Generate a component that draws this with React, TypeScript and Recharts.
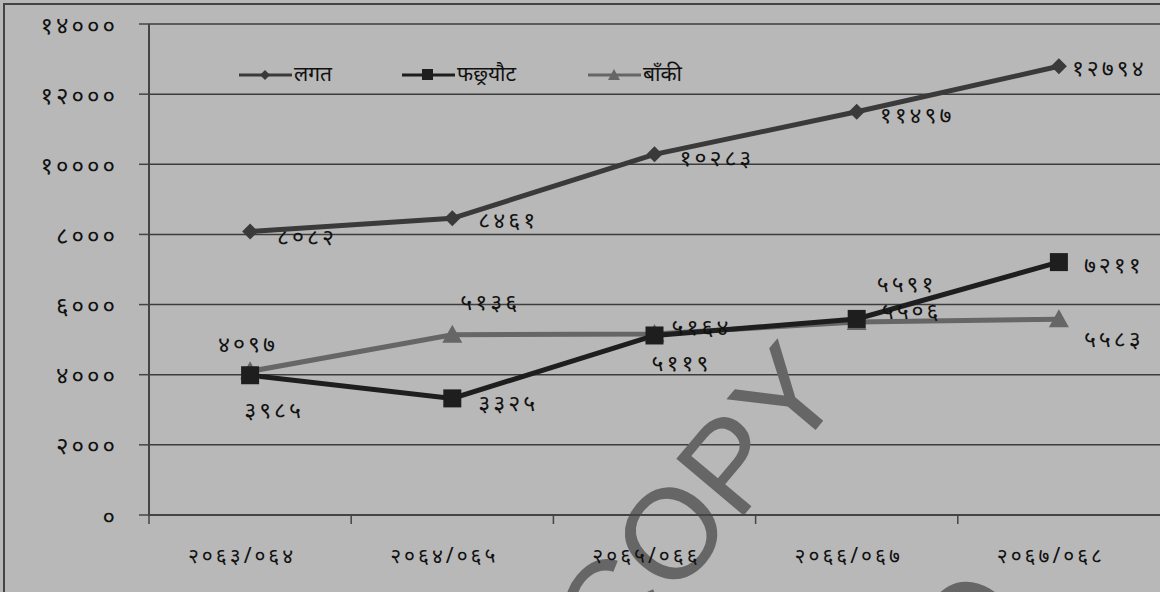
import React from 'react';
import { LineChart, Line, XAxis, YAxis, CartesianGrid, Customized } from 'recharts';

// fiscal years (Nepali)
const years = ['२०६३/०६४', '२०६४/०६५', '२०६५/०६६', '२०६६/०६७', '२०६७/०६८'];
const lagat = [8082, 8461, 10283, 11497, 12794];
const fachhyaut = [3985, 3325, 5119, 5591, 7211];
const baki = [4097, 5136, 5164, 5506, 5583];
const yTicks = [0, 2000, 4000, 6000, 8000, 10000, 12000, 14000];
const seriesNames = ['लगत', 'फछ्र्यौट', 'बाँकी'];

const data = years.map((y, i) => ({ year: y, lagat: lagat[i], fachhyaut: fachhyaut[i], baki: baki[i] }));

const W = 1160;
const H = 592;
const LEFT = 149;
const TOP = 24;
const XH = 30;
const BOTTOM = 77 - XH;
const BAND = (W - LEFT) / years.length;

const DEV = ['०', '१', '२', '३', '४', '५', '६', '७', '८', '९'];
const toDev = (n: number | string) => String(n).replace(/[0-9]/g, (d) => DEV[Number(d)]);

const FONT = '"Noto Sans", sans-serif';

// label offsets from the point (dx, dy, anchor)
const lagatOff: [number, number, string][] = [[27, 4, 'start'], [26, 1, 'start'], [25, 3, 'start'], [23, 2, 'start'], [13, 1, 'start']];
const fachOff: [number, number, string][] = [[24, 34, 'middle'], [26, 4, 'start'], [-3, 27, 'start'], [20, -36, 'start'], [25, 2, 'start']];
const bakiOff: [number, number, string][] = [[-32, -28, 'start'], [8, -34, 'start'], [17, -8, 'start'], [25, -12, 'start'], [25, 19, 'start']];

const makeLabel = (off: [number, number, string][]) => (props: any) => {
  const { x, y, index, value } = props;
  const [dx, dy, anchor] = off[index];
  return (
    <text x={x + dx} y={y + dy} textAnchor={anchor as any} dominantBaseline="central"
      fontSize={23} letterSpacing={3} fontFamily={FONT} fill="#111">
      {toDev(value)}
    </text>
  );
};

const Diamond = (props: any) => {
  const { cx, cy } = props;
  const r = 8;
  return <path d={`M${cx},${cy - r}L${cx + r},${cy}L${cx},${cy + r}L${cx - r},${cy}Z`} fill="#3a3a3a" />;
};
const Square = (props: any) => {
  const { cx, cy } = props;
  return <rect x={cx - 9} y={cy - 9} width={18} height={18} fill="#1e1e1e" />;
};
const Triangle = (props: any) => {
  const { cx, cy } = props;
  return <path d={`M${cx},${cy - 10}L${cx + 10},${cy + 8}L${cx - 10},${cy + 8}Z`} fill="#666" />;
};

const XTick = (props: any) => {
  const { x, y, payload } = props;
  const bx = x - BAND / 2;
  return (
    <g>
      <line x1={bx} y1={y} x2={bx} y2={y + 9} stroke="#444" strokeWidth={1.5} />
      <text x={x - 8} y={y + 40} textAnchor="middle" dominantBaseline="central" fontSize={21} letterSpacing={3} fontFamily={FONT} fill="#111">
        {payload.value}
      </text>
    </g>
  );
};

const YTick = (props: any) => {
  const { x, y, payload } = props;
  return (
    <text x={x} y={y} textAnchor="end" dominantBaseline="central" fontSize={24} letterSpacing={3} fontFamily={FONT} fill="#111">
      {toDev(payload.value)}
    </text>
  );
};

const Watermark = () => (
  <g fontFamily='"Liberation Sans", Arial, sans-serif' fontSize={128} fill="#666">
    <text x={695} y={548} textAnchor="middle" transform="rotate(-50 695 502)">COPY</text>
    <text x={1082} y={738} textAnchor="middle" transform="rotate(30 1082 692)">COPY</text>
  </g>
);

const legendItems = [
  { name: seriesNames[0], color: '#3a3a3a', shape: 'diamond', left: 239 },
  { name: seriesNames[1], color: '#1e1e1e', shape: 'square', left: 402 },
  { name: seriesNames[2], color: '#666', shape: 'triangle', left: 588 },
];

const LegendOverlay = () => (
  <svg width={W} height={H} style={{ position: 'absolute', left: 0, top: 0, pointerEvents: 'none' }}>
    {legendItems.map((it) => (
      <g key={it.name}>
        <line x1={it.left} y1={75} x2={it.left + 53} y2={75} stroke={it.color} strokeWidth={3} />
        {it.shape === 'diamond' && <path d={`M${it.left + 26},70L${it.left + 31},75L${it.left + 26},80L${it.left + 21},75Z`} fill={it.color} />}
        {it.shape === 'square' && <rect x={it.left + 20} y={69} width={11} height={11} fill={it.color} />}
        {it.shape === 'triangle' && <path d={`M${it.left + 26},69L${it.left + 32},80L${it.left + 20},80Z`} fill={it.color} />}
        <text x={it.left + 55} y={73} dominantBaseline="central" fontSize={21} fontFamily={FONT} fill="#111">{it.name}</text>
      </g>
    ))}
  </svg>
);

export default function App() {
  return (
    <div style={{ position: 'fixed', left: 0, top: 0, width: W, height: H, background: '#b8b8b8', overflow: 'hidden' }}>
      <div style={{ position: 'absolute', left: 3, top: 3, width: W, height: H, borderLeft: '2px solid #444', borderTop: '2px solid #444' }} />
      <LineChart width={W} height={H} data={data} margin={{ top: TOP, right: 0, bottom: BOTTOM, left: 0 }}>
        <CartesianGrid horizontal vertical={false} stroke="#3c3c3c" strokeWidth={1.5} />
        <XAxis dataKey="year" height={XH} padding={{ left: BAND / 2, right: BAND / 2 }} axisLine={{ stroke: '#444', strokeWidth: 2 }}
          tickLine={false} tickSize={0} tickMargin={0} tick={<XTick />} interval={0} />
        <YAxis width={LEFT} domain={[0, 14000]} ticks={yTicks} axisLine={{ stroke: '#444', strokeWidth: 2 }}
          tickLine={{ stroke: '#444', strokeWidth: 1.5 }} tickSize={10} tickMargin={21} tick={<YTick />} interval={0} />
        <Customized component={Watermark} />
        <Line dataKey="baki" name={seriesNames[2]} stroke="#666" strokeWidth={5} dot={<Triangle />} isAnimationActive={false} label={makeLabel(bakiOff)} />
        <Line dataKey="fachhyaut" name={seriesNames[1]} stroke="#1e1e1e" strokeWidth={5} dot={<Square />} isAnimationActive={false} label={makeLabel(fachOff)} />
        <Line dataKey="lagat" name={seriesNames[0]} stroke="#3a3a3a" strokeWidth={5} dot={<Diamond />} isAnimationActive={false} label={makeLabel(lagatOff)} />
      </LineChart>
      <LegendOverlay />
    </div>
  );
}
